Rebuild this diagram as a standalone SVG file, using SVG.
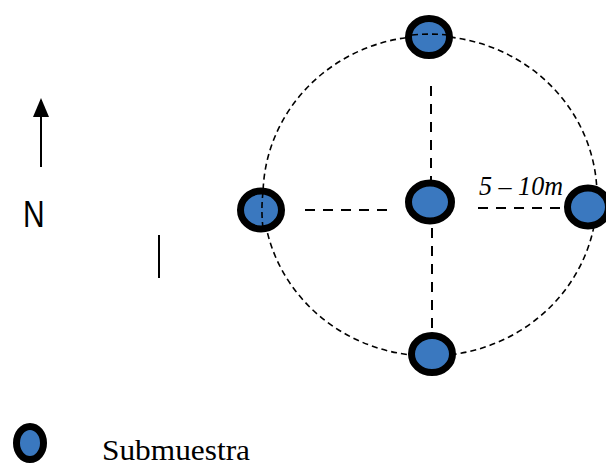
<svg xmlns="http://www.w3.org/2000/svg" width="606" height="466" viewBox="0 0 606 466">
<style>
.node{fill:#3a78bf;stroke:#000;stroke-width:7}
.dash{fill:none;stroke:#000;stroke-width:2;stroke-dasharray:10 8}
.ring{fill:none;stroke:#000;stroke-width:1.6;stroke-dasharray:6 4}
</style>
<rect width="606" height="466" fill="#fff"/>
<g id="connectors">
<ellipse class="ring" cx="430" cy="196" rx="167" ry="160"/>
<line class="dash" x1="431" y1="86" x2="431" y2="180"/>
<line class="dash" x1="432" y1="228" x2="432" y2="334"/>
<line class="dash" x1="305" y1="210" x2="392" y2="210"/>
<line class="dash" x1="478" y1="208" x2="565" y2="208"/>
</g>
<g id="node-top"><ellipse class="node" cx="429" cy="37" rx="20.5" ry="18.5"/></g>
<g id="node-left"><ellipse class="node" cx="261" cy="210" rx="20.5" ry="19"/></g>
<g id="node-center"><ellipse class="node" cx="430" cy="202" rx="21.5" ry="19"/></g>
<g id="node-right"><ellipse class="node" cx="588" cy="207" rx="20.5" ry="19"/></g>
<g id="node-bottom"><ellipse class="node" cx="432" cy="354" rx="20.5" ry="18.5"/></g>
<g id="ring-overlay">
<path class="ring" d="M412,35 A167,160 0 0 1 448,35"/>
<path class="ring" d="M263,192 A167,160 0 0 0 263,228"/>
</g>
<text x="0" y="0" transform="translate(479,195) scale(1,1.25)" font-family="Liberation Serif, serif" font-style="italic" font-size="21" textLength="84" lengthAdjust="spacingAndGlyphs">5 – 10m</text>
<g id="north">
<line x1="41" y1="167" x2="41" y2="100" stroke="#000" stroke-width="2"/>
<path d="M41,98 L49,117 L33,117 z" fill="#000"/>
<text x="0" y="0" transform="translate(23,227) scale(1,1.25)" font-family="Liberation Sans, Arial, sans-serif" font-size="30">N</text>
</g>
<line x1="159" y1="235" x2="159" y2="278" stroke="#000" stroke-width="2"/>
<g id="legend">
<ellipse class="node" cx="30" cy="443" rx="13.5" ry="16.5"/>
<text x="102" y="460" font-family="Liberation Serif, serif" font-size="30" textLength="148" lengthAdjust="spacingAndGlyphs">Submuestra</text>
</g>
</svg>
